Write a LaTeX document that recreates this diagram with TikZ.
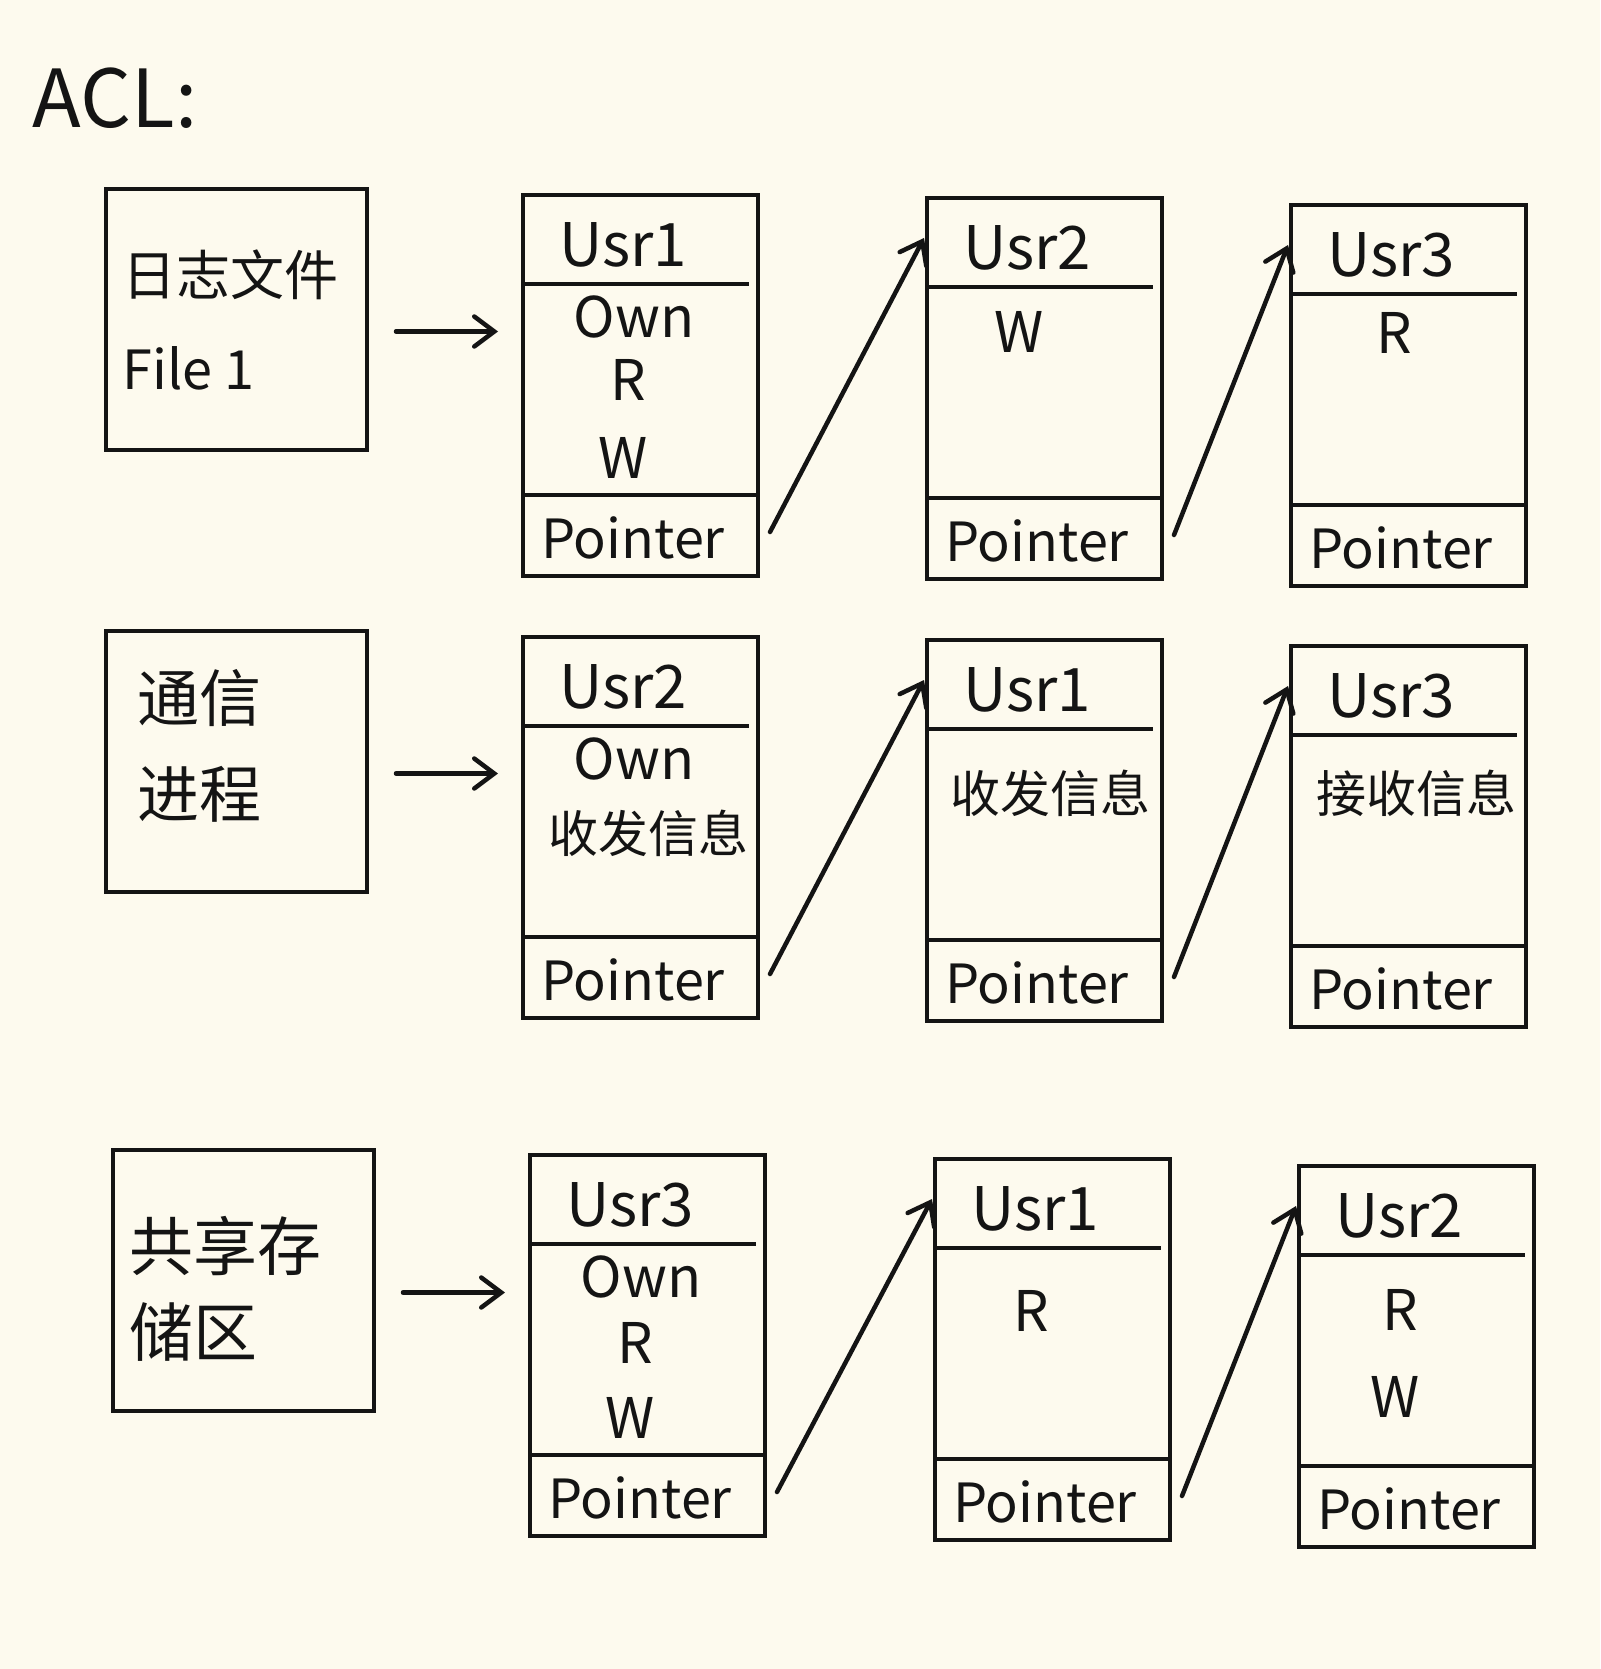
\documentclass[tikz,border=0pt]{standalone}
\usepackage{fontspec}
\setmainfont{Noto Sans CJK SC}
\usetikzlibrary{arrows.meta,positioning,calc}
\definecolor{paper}{RGB}{253,250,238}
\definecolor{inkblack}{RGB}{20,20,20}

\begin{document}
\begin{tikzpicture}[x=1pt, y=1pt,
    ink/.style={draw=inkblack, line width=4.5pt},
    objbox/.style={ink, rectangle, anchor=north west, inner sep=0pt, outer sep=0pt, minimum width=261pt, minimum height=261pt},
    recbox/.style={ink, rectangle, anchor=north west, inner sep=0pt, outer sep=0pt, minimum width=235pt, minimum height=381pt},
    objtext/.style={anchor=west, align=left, text=inkblack, font=\fontsize{54}{94}\selectfont},
    usrtext/.style={text=inkblack, font=\fontsize{60}{70}\selectfont},
    ptrtext/.style={text=inkblack, font=\fontsize{54}{60}\selectfont},
    entry/.style={text=inkblack, font=\fontsize{56}{60}\selectfont},
    arrow/.style={-{Straight Barb[length=20pt,width=30pt,line cap=round]}, line width=4.5pt, line cap=round, draw=inkblack}
]
    % Paper
    \fill[paper] (0,0) rectangle (1600,-1669);
    \useasboundingbox (0,0) rectangle (1600,-1669);

    % Title
    \node[text=inkblack, font=\fontsize{80}{90}\selectfont] (acl) at (115,-98) {ACL:};

    % Objects
    \node[objbox] (f1) at (106,-189) {};
    \node[objbox] (f2) at (106,-631) {};
    \node[objbox] (f3) at (113,-1150) {};
    \node[objtext] (f1-txt) at ($(f1.west)+(13,0)$) {日志文件\\File 1};
    \node[objtext, font=\fontsize{62}{96}\selectfont] (f2-txt) at ($(f2.west)+(28,16)$) {通信\\进程};
    \node[objtext, font=\fontsize{64}{86}\selectfont] (f3-txt) at ($(f3.west)+(13,-8)$) {共享存\\储区};

    % Access list records
    \node[recbox] (u11) at (523,-195) {};
    \node[recbox] (u12) at (927,-198) {};
    \node[recbox] (u13) at (1291,-205) {};
    \node[recbox] (u21) at (523,-637) {};
    \node[recbox] (u22) at (927,-640) {};
    \node[recbox] (u23) at (1291,-646) {};
    \node[recbox] (u31) at (530,-1155) {};
    \node[recbox] (u32) at (935,-1159) {};
    \node[recbox] (u33) at (1299,-1166) {};

    % Dividers, user names and pointers
    \foreach \r/\u in {u11/Usr1, u12/Usr2, u13/Usr3, u21/Usr2, u22/Usr1, u23/Usr3, u31/Usr3, u32/Usr1, u33/Usr2} {
        \draw[ink] ($(\r.north west)+(0,-89)$) -- ($(\r.north east)+(-9,-89)$);
        \draw[ink] ($(\r.north west)+(0,-300)$) -- ($(\r.north east)+(0,-300)$);
        \node[usrtext] (\r-usr) at ($(\r.north west)+(100,-50)$) {\u};
        \node[ptrtext] (\r-ptr) at ($(\r.south west)+(110,38)$) {Pointer};
    }

    % Rights
    \node[entry] (u11-own) at ($(u11.north west)+(111,-122)$) {Own};
    \node[entry] (u11-r) at ($(u11.north west)+(105,-185)$) {R};
    \node[entry] (u11-w) at ($(u11.north west)+(100,-263)$) {W};
    \node[entry] (u12-w) at ($(u12.north west)+(92,-134)$) {W};
    \node[entry] (u13-r) at ($(u13.north west)+(103,-128)$) {R};
    \node[entry] (u21-own) at ($(u21.north west)+(111,-122)$) {Own};
    \node[entry, font=\fontsize{50}{56}\selectfont] (u21-msg) at ($(u21.north west)+(125,-196)$) {收发信息};
    \node[entry, font=\fontsize{50}{56}\selectfont] (u22-msg) at ($(u22.north west)+(123,-153)$) {收发信息};
    \node[entry, font=\fontsize{50}{56}\selectfont] (u23-msg) at ($(u23.north west)+(125,-147)$) {接收信息};
    \node[entry] (u31-own) at ($(u31.north west)+(111,-122)$) {Own};
    \node[entry] (u31-r) at ($(u31.north west)+(105,-188)$) {R};
    \node[entry] (u31-w) at ($(u31.north west)+(100,-263)$) {W};
    \node[entry] (u32-r) at ($(u32.north west)+(96,-152)$) {R};
    \node[entry] (u33-r) at ($(u33.north west)+(101,-144)$) {R};
    \node[entry] (u33-w) at ($(u33.north west)+(96,-231)$) {W};

    % Object to first record
    \foreach \f/\r in {f1/u11, f2/u21, f3/u31}
        \draw[arrow, shorten <=29pt, shorten >=25pt] ([yshift=-12pt]\f.east) -- ([yshift=-12pt]\f.east -| \r.west);

    % Record to next record
    \foreach \a/\b in {u11/u12, u12/u13, u21/u22, u22/u23, u31/u32, u32/u33}
        \draw[arrow] ([xshift=12pt,yshift=44pt]\a.south east) -- ([xshift=-3pt,yshift=-40pt]\b.north west);
\end{tikzpicture}
\end{document}
